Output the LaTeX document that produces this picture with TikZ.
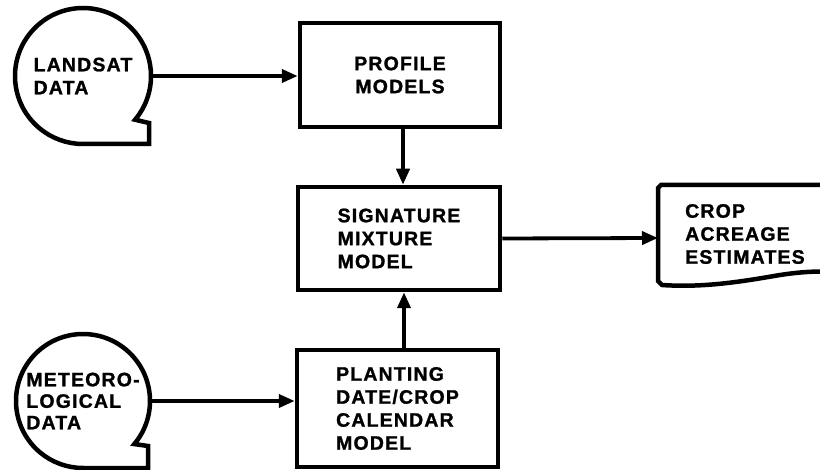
\documentclass[tikz,border=0pt]{standalone}
\usepackage{fontspec}
\newfontfamily\lbl{Liberation Sans}[LetterSpace=6, BoldFeatures={FakeBold=1.2}]
\usetikzlibrary{arrows.meta,calc}
\begin{document}
\begin{tikzpicture}[x=1pt,y=1pt,
  lab/.style={font=\lbl\bfseries\fontsize{19.5}{23}\selectfont, align=left},
  boxnode/.style={draw, line width=4.5pt, lab, inner sep=0pt},
  tape/.style={draw, line width=4.5pt, line join=miter},
  flow/.style={line width=3.8pt, -{Triangle[length=16pt,width=13pt]}}]
\useasboundingbox (0,0) rectangle (820,469);
% tape symbols
\node[lab, circle, inner sep=0pt, minimum size=136pt] (landsat) at (83,393) {LANDSAT\\DATA};
\draw[tape] ($(landsat.center)+(-40:68pt)$) arc[start angle=-40, end angle=270, radius=68pt] -- ++(66,0) -- ++(0,21) -- cycle;
\node[lab, circle, inner sep=0pt, minimum size=134pt, font=\lbl\bfseries\fontsize{19.5}{21.5}\selectfont] (met) at (83,68) {METEORO-\\LOGICAL\\DATA};
\draw[tape] ($(met.center)+(-40:67pt)$) arc[start angle=-40, end angle=270, radius=67pt] -- ++(65,0) -- ++(0,22) -- cycle;
% boxes
\node[boxnode, align=center, minimum width=200pt, minimum height=104pt] (profile) at (400,394) {PROFILE\\MODELS};
\node[boxnode, minimum width=202pt, minimum height=103pt] (sig) at (399,230.5) {SIGNATURE\\MIXTURE\\MODEL};
\node[boxnode, minimum width=201pt, minimum height=117pt] (plant) at (397.5,60.5) {PLANTING\\DATE/CROP\\CALENDAR\\MODEL};
% document
\node[lab, anchor=west, inner sep=0pt] (crop) at (685,235) {CROP\\ACREAGE\\ESTIMATES};
\draw[tape] (824,284) -- (661,284) -- (658,281) -- (658,188) -- (662,184)
  .. controls (705,181) and (745,188) .. (780,194)
  .. controls (800,197) and (812,197.5) .. (824,197.5);
\coordinate (docw) at (658,231);
% connectors
\draw[flow] (landsat.east) -- (landsat.east -| profile.west);
\draw[flow] (met.east) -- (met.east -| plant.west);
\draw[flow] ([xshift=3pt]profile.south) -- ([xshift=3pt]profile.south |- sig.north);
\draw[flow] ([xshift=6.5pt]plant.north) -- ([xshift=6.5pt]plant.north |- sig.south);
\draw[flow] (sig.east) -- (docw);
\end{tikzpicture}
\end{document}
